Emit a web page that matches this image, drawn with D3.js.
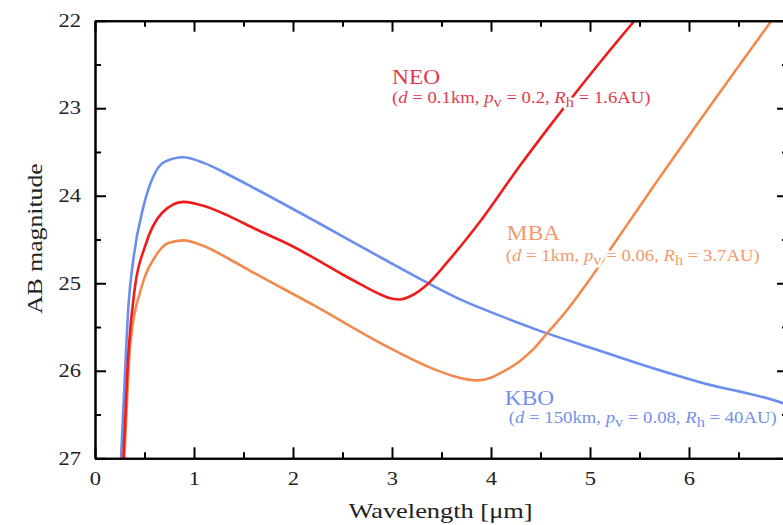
<!DOCTYPE html>
<html>
<head>
<meta charset="utf-8">
<script src="https://cdn.jsdelivr.net/npm/d3@7"></script>
<style>
  body { margin: 0; background: #fff; }
  svg { font-family: "Liberation Serif", "DejaVu Serif", serif; }
</style>
</head>
<body>
<script>
// wavelength [um] / AB magnitude
const neoX = [0.27, 0.286, 0.337, 0.404, 0.505, 0.674, 0.892, 1.11, 1.35, 1.62, 2.0, 2.24, 2.5, 2.68, 2.85, 2.98, 3.08, 3.2, 3.35, 3.55, 3.90, 4.29, 4.63, 4.97, 5.45, 5.6]
const neoY = [27.3, 27.0, 25.80, 25.04, 24.58, 24.20, 24.07, 24.12, 24.23, 24.38, 24.58, 24.73, 24.90, 25.01, 25.11, 25.17, 25.185, 25.14, 25.02, 24.77, 24.28, 23.66, 23.15, 22.66, 22.0, 21.8]

const mbaX = [0.28, 0.296, 0.354, 0.471, 0.606, 0.74, 0.892, 1.11, 1.35, 1.62, 2.24, 2.91, 3.42, 3.65, 3.86, 4.0, 4.09, 4.29, 4.43, 4.56, 4.73, 4.97, 5.20, 5.40, 5.71, 6.04, 6.45, 6.82, 6.95]
const mbaY = [27.3, 27.0, 25.73, 25.04, 24.70, 24.54, 24.51, 24.58, 24.72, 24.89, 25.27, 25.70, 25.98, 26.07, 26.11, 26.08, 26.03, 25.89, 25.75, 25.58, 25.36, 25.0, 24.62, 24.29, 23.78, 23.25, 22.60, 22.02, 21.82]

const kboX = [0.25, 0.263, 0.303, 0.337, 0.387, 0.488, 0.606, 0.707, 0.892, 1.11, 1.35, 1.62, 2.24, 2.91, 3.35, 3.7, 4.09, 4.56, 5.07, 5.44, 6.11, 6.95, 7.0]
const kboY = [27.3, 27.0, 26.03, 25.27, 24.73, 24.13, 23.74, 23.61, 23.56, 23.63, 23.76, 23.92, 24.30, 24.72, 24.99, 25.19, 25.37, 25.57, 25.76, 25.90, 26.13, 26.37, 26.39]

const xTicks = [0, 1, 2, 3, 4, 5, 6, 7]
const yTicks = [22, 23, 24, 25, 26, 27]

const series = [
  { name: 'KBO', xs: kboX, ys: kboY, color: '#6a8ef0', text: '#7391ea',
    d: '150km', pv: '0.08', rh: '40AU', lx: 4.14, ly: 26.39, sx: 4.18, sy: 26.60 },
  { name: 'MBA', xs: mbaX, ys: mbaY, color: '#f28a4e', text: '#f29a6c',
    d: '1km', pv: '0.06', rh: '3.7AU', lx: 4.16, ly: 24.505, sx: 4.15, sy: 24.74 },
  { name: 'NEO', xs: neoX, ys: neoY, color: '#ee1c1c', text: '#e43a4c',
    d: '0.1km', pv: '0.2', rh: '1.6AU', lx: 3.0, ly: 22.72, sx: 3.0, sy: 22.94 }
]

const W = 783, H = 525
const margin = { left: 95, top: 20.7 }
const innerW = 693, innerH = 437.6
const stretch = 1.17  // the source figure is a little wider than tall

const svg = d3.select('body').append('svg')
  .attr('width', W)
  .attr('height', H)

const x = d3.scaleLinear().domain([0, 7]).range([margin.left, margin.left + innerW])
const y = d3.scaleLinear().domain([22, 27]).range([margin.top, margin.top + innerH])

svg.append('clipPath').attr('id', 'plot')
  .append('rect')
  .attr('x', margin.left).attr('y', margin.top)
  .attr('width', innerW).attr('height', innerH)

const line = d3.line()
  .curve(d3.curveMonotoneX)
  .x(d => x(d[0]))
  .y(d => y(d[1]))

const curves = svg.append('g').attr('clip-path', 'url(#plot)')
series.forEach(s => {
  curves.append('path')
    .datum(s.xs.map((v, i) => [v, s.ys[i]]))
    .attr('d', line)
    .attr('fill', 'none')
    .attr('stroke', s.color)
    .attr('stroke-width', 2.6)
})

const subLabel = (g, s, halo) => {
  const t = g.append('text')
    .attr('transform', `translate(${x(s.sx)},${y(s.sy)}) scale(${stretch},1)`)
    .attr('font-size', 16)
  if (halo) {
    t.attr('fill', '#fff').attr('stroke', '#fff')
      .attr('stroke-width', 5).attr('stroke-linejoin', 'round')
  } else {
    t.attr('fill', s.text)
  }
  t.append('tspan').text('(')
  t.append('tspan').attr('font-style', 'italic').text('d')
  t.append('tspan').text(` = ${s.d}, `)
  t.append('tspan').attr('font-style', 'italic').text('p')
  t.append('tspan').attr('font-size', 14).attr('dy', 4).text('v')
  t.append('tspan').attr('dy', -4).text(` = ${s.pv}, `)
  t.append('tspan').attr('font-style', 'italic').text('R')
  t.append('tspan').attr('font-size', 14).attr('dy', 4).text('h')
  t.append('tspan').attr('dy', -4).text(` = ${s.rh})`)
}

// labels sit on a white halo so the curves break behind them
const halos = svg.append('g')
const labels = svg.append('g')
series.forEach(s => {
  labels.append('text')
    .attr('transform', `translate(${x(s.lx)},${y(s.ly)}) scale(${stretch},1)`)
    .attr('fill', s.text)
    .attr('font-size', 20)
    .text(s.name)
  subLabel(halos, s, true)
  subLabel(labels, s, false)
})

const styleAxis = g => {
  g.select('.domain').attr('stroke', '#000').attr('stroke-width', 2)
  g.selectAll('.tick line').attr('stroke', '#000').attr('stroke-width', 2)
  g.selectAll('.tick text')
    .attr('fill', '#222')
    .attr('font-size', 18)
    .attr('font-family', '"Liberation Serif", serif')
}

const xMinor = d3.range(0.5, 7, 1)
const yMinor = d3.range(22.5, 27, 1)

// bottom
svg.append('g')
  .attr('transform', `translate(0,${margin.top + innerH})`)
  .call(d3.axisBottom(x).tickValues(xTicks.slice(0, 7)).tickFormat(d3.format('d'))
    .tickSizeInner(-11).tickSizeOuter(0).tickPadding(14))
  .call(styleAxis)
  .call(g => g.selectAll('.tick text').attr('transform', 'scale(1.25,1)'))
svg.append('g')
  .attr('transform', `translate(0,${margin.top + innerH})`)
  .call(d3.axisBottom(x).tickValues(xMinor).tickFormat('').tickSizeInner(-6).tickSizeOuter(0))
  .call(styleAxis)

// top
svg.append('g')
  .attr('transform', `translate(0,${margin.top})`)
  .call(d3.axisTop(x).tickValues(xTicks).tickFormat('').tickSizeInner(-11).tickSizeOuter(0))
  .call(styleAxis)
svg.append('g')
  .attr('transform', `translate(0,${margin.top})`)
  .call(d3.axisTop(x).tickValues(xMinor).tickFormat('').tickSizeInner(-6).tickSizeOuter(0))
  .call(styleAxis)

// left
svg.append('g')
  .attr('transform', `translate(${margin.left},0)`)
  .call(d3.axisLeft(y).tickValues(yTicks).tickFormat(d3.format('d'))
    .tickSizeInner(-11).tickSizeOuter(0).tickPadding(14))
  .call(styleAxis)
  .call(g => g.selectAll('.tick text').attr('x', -14 / 1.25).attr('transform', 'scale(1.25,1)'))
svg.append('g')
  .attr('transform', `translate(${margin.left},0)`)
  .call(d3.axisLeft(y).tickValues(yMinor).tickFormat('').tickSizeInner(-6).tickSizeOuter(0))
  .call(styleAxis)

// right
svg.append('g')
  .attr('transform', `translate(${margin.left + innerW},0)`)
  .call(d3.axisRight(y).tickValues(yTicks).tickFormat('').tickSizeInner(-11).tickSizeOuter(0))
  .call(styleAxis)
svg.append('g')
  .attr('transform', `translate(${margin.left + innerW},0)`)
  .call(d3.axisRight(y).tickValues(yMinor).tickFormat('').tickSizeInner(-6).tickSizeOuter(0))
  .call(styleAxis)

svg.append('text')
  .attr('transform', `translate(${x(3.49)},518) scale(1.2,1)`)
  .attr('text-anchor', 'middle')
  .attr('font-size', 22)
  .attr('fill', '#222')
  .text('Wavelength  [μm]')

svg.append('text')
  .attr('transform', `translate(42,${y(24.49)}) rotate(-90) scale(1.17,1)`)
  .attr('text-anchor', 'middle')
  .attr('font-size', 22)
  .attr('fill', '#222')
  .text('AB magnitude')
</script>
</body>
</html>
